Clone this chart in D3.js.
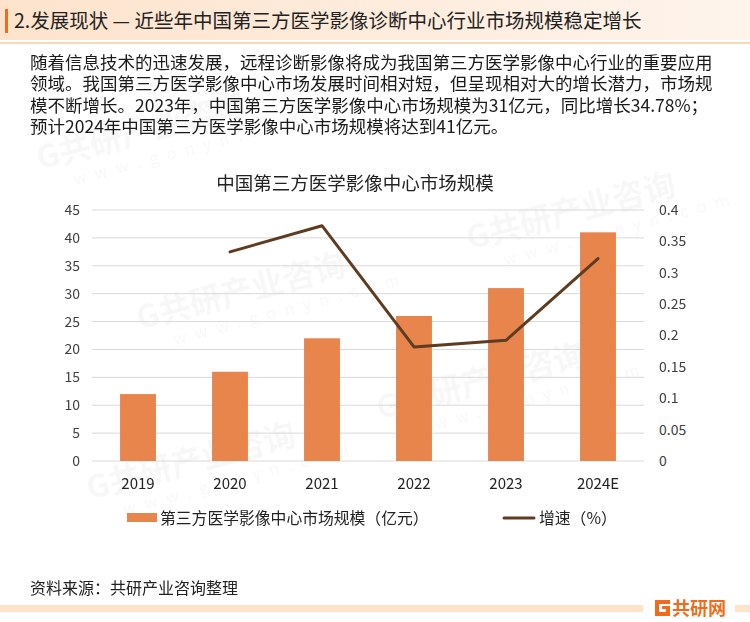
<!DOCTYPE html>
<html>
<head>
<meta charset="utf-8">
<script src="https://cdn.jsdelivr.net/npm/d3@7"></script>
<style>
  body { margin: 0; background: #fff; }
  #container { position: relative; width: 750px; height: 622px; }
  svg { display: block; font-family: "Noto Sans CJK SC", "Noto Sans", sans-serif; }
  .para {
    position: absolute; left: 30px; top: 50.6px;
    font-family: "Noto Sans CJK SC", "Noto Sans", sans-serif;
    font-size: 17.5px; line-height: 21.5px; color: #1a1a1a; white-space: pre;
  }
</style>
</head>
<body>
<div id="container"></div>
<script>
// Data.
const years = ['2019', '2020', '2021', '2022', '2023', '2024E'];
const marketSize = [12, 16, 22, 26, 31, 41];          // 亿元
const growth = [null, 0.3333, 0.375, 0.1818, 0.1923, 0.3226];
const leftTicks = [0, 5, 10, 15, 20, 25, 30, 35, 40, 45];
const rightTicks = [0, 0.05, 0.1, 0.15, 0.2, 0.25, 0.3, 0.35, 0.4];

const headerText = '2.发展现状 — 近些年中国第三方医学影像诊断中心行业市场规模稳定增长';
const paragraph = [
  '随着信息技术的迅速发展，远程诊断影像将成为我国第三方医学影像中心行业的重要应用',
  '领域。我国第三方医学影像中心市场发展时间相对短，但呈现相对大的增长潜力，市场规',
  '模不断增长。2023年，中国第三方医学影像中心市场规模为31亿元，同比增长34.78%；',
  '预计2024年中国第三方医学影像中心市场规模将达到41亿元。'
];
const chartTitle = '中国第三方医学影像中心市场规模';
const barLegend = '第三方医学影像中心市场规模（亿元）';
const lineLegend = '增速（%）';
const sourceText = '资料来源：共研产业咨询整理';

const W = 750, H = 622;
const svg = d3.select('#container').append('svg')
  .attr('width', W).attr('height', H);

// Header.
const defs = svg.append('defs');
const grad = defs.append('linearGradient').attr('id', 'hdr');
grad.append('stop').attr('offset', '0%').attr('stop-color', '#fde3cc');
grad.append('stop').attr('offset', '100%').attr('stop-color', '#fef4ec');
svg.append('rect').attr('x', 0).attr('y', 0).attr('width', W).attr('height', 40)
  .attr('fill', 'url(#hdr)');
svg.append('rect').attr('x', 5).attr('y', 9).attr('width', 3).attr('height', 24)
  .attr('fill', '#e8701f');
svg.append('rect').attr('x', 0).attr('y', 42).attr('width', W).attr('height', 2)
  .attr('fill', '#fcd8b8');
svg.append('text').attr('x', 14).attr('y', 28)
  .attr('font-size', 19.5).attr('fill', '#222').text(headerText);

// Watermarks (very faint).
const wm = svg.append('g').attr('fill', '#000').attr('opacity', 0.035)
  .attr('font-weight', 'bold');
const wmSpots = [[40, 170], [470, 250], [140, 330], [380, 420], [90, 500]];
wmSpots.forEach(([x, y]) => {
  const g = wm.append('g').attr('transform', `translate(${x},${y}) rotate(-15)`);
  g.append('text').attr('font-size', 32).text('G共研产业咨询');
  g.append('text').attr('y', 24).attr('x', 30).attr('font-size', 16)
    .attr('letter-spacing', 9).attr('font-weight', 'normal').text('www.gonyn.com');
});

// Paragraph (HTML lines so the tight line spacing keeps clean line boxes).
d3.select('#container').append('div').attr('class', 'para')
  .selectAll('div').data(paragraph).join('div').text(d => d);

// Chart title.
svg.append('text').attr('x', 355).attr('y', 190).attr('text-anchor', 'middle')
  .attr('font-size', 18.5).attr('fill', '#222').text(chartTitle);

// Scales.
const plot = { left: 92, right: 644, top: 210, bottom: 461 };
const x = d3.scaleBand().domain(years).range([plot.left, plot.right]).paddingInner(0.61).paddingOuter(0.305);
const yL = d3.scaleLinear().domain([0, 45]).range([plot.bottom, plot.top]);
const yR = d3.scaleLinear().domain([0, 0.4]).range([plot.bottom, plot.top]);

// Grid.
svg.append('g').selectAll('line').data(leftTicks).join('line')
  .attr('x1', plot.left).attr('x2', plot.right)
  .attr('y1', d => yL(d)).attr('y2', d => yL(d))
  .attr('stroke', '#d9d9d9').attr('stroke-width', 1);

// Axes.
const axL = svg.append('g').attr('transform', `translate(${plot.left - 12},0)`)
  .call(d3.axisLeft(yL).tickValues(leftTicks).tickSize(0).tickPadding(0));
axL.select('.domain').remove();
axL.selectAll('text').attr('font-size', 14).attr('fill', '#404040')
  .attr('font-family', '"Noto Sans CJK SC", sans-serif');

const axR = svg.append('g').attr('transform', `translate(${plot.right + 15},0)`)
  .call(d3.axisRight(yR).tickValues(rightTicks).tickSize(0).tickPadding(0)
    .tickFormat(d => String(+d.toFixed(2))));
axR.select('.domain').remove();
axR.selectAll('text').attr('font-size', 14).attr('fill', '#404040')
  .attr('font-family', '"Noto Sans CJK SC", sans-serif');

const axB = svg.append('g').attr('transform', `translate(0,${plot.bottom + 14})`)
  .call(d3.axisBottom(x).tickSize(0).tickPadding(0));
axB.select('.domain').remove();
axB.selectAll('text').attr('font-size', 15).attr('fill', '#222').attr('dy', '0.9em')
  .attr('font-family', '"Noto Sans CJK SC", sans-serif');

// Bars.
svg.append('g').selectAll('rect').data(years).join('rect')
  .attr('x', d => x(d))
  .attr('width', x.bandwidth())
  .attr('y', (d, i) => yL(marketSize[i]))
  .attr('height', (d, i) => yL(0) - yL(marketSize[i]))
  .attr('fill', '#e8854d');

// Growth line.
const pts = years.map((d, i) => ({ year: d, v: growth[i] })).filter(d => d.v != null);
svg.append('path').datum(pts)
  .attr('d', d3.line().x(d => x(d.year) + x.bandwidth() / 2).y(d => yR(d.v)))
  .attr('fill', 'none').attr('stroke', '#5e3c22').attr('stroke-width', 3)
  .attr('stroke-linejoin', 'round').attr('stroke-linecap', 'round');

// Legend.
const lg = svg.append('g');
lg.append('rect').attr('x', 127).attr('y', 513).attr('width', 30).attr('height', 9).attr('fill', '#e8854d');
lg.append('text').attr('x', 160).attr('y', 524).attr('font-size', 15.8).attr('fill', '#222').text(barLegend);
lg.append('line').attr('x1', 504).attr('x2', 534).attr('y1', 518).attr('y2', 518)
  .attr('stroke', '#5e3c22').attr('stroke-width', 3).attr('stroke-linecap', 'round');
lg.append('text').attr('x', 539).attr('y', 524).attr('font-size', 15.8).attr('fill', '#222').text(lineLegend);

// Source.
svg.append('text').attr('x', 30).attr('y', 594).attr('font-size', 16).attr('fill', '#222').text(sourceText);

// Footer band + logo.
svg.append('rect').attr('x', 0).attr('y', 605).attr('width', 643).attr('height', 7).attr('fill', '#fde3c8');
svg.append('rect').attr('x', 735).attr('y', 605).attr('width', 15).attr('height', 7).attr('fill', '#fde3c8');
const logo = svg.append('g').attr('transform', 'translate(655,600)');
logo.append('path')
  .attr('d', 'M0,0 H15 V4 H4 V12 H11 V9 H7 V6 H15 V16 H0 Z')
  .attr('fill', '#f26a1b');
logo.append('text').attr('x', 17).attr('y', 15).attr('font-size', 18).attr('font-weight', 'bold')
  .attr('fill', '#f26a1b').text('共研网');
</script>
</body>
</html>
